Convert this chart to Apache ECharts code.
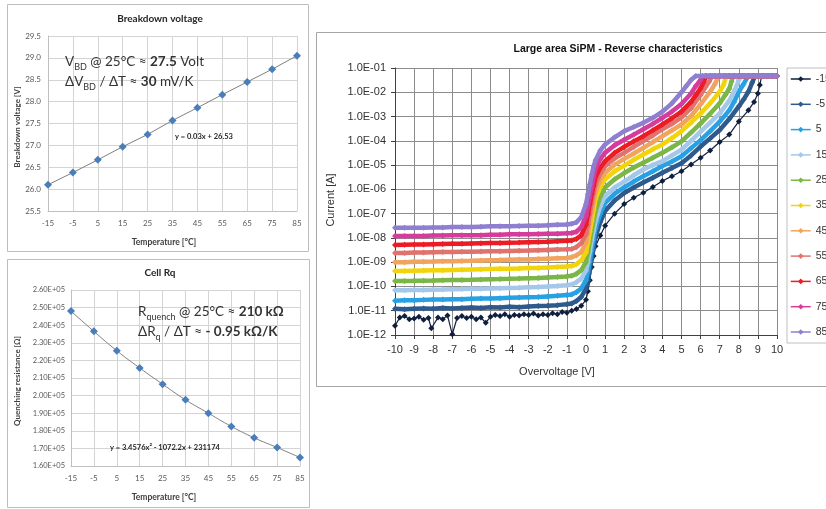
<!DOCTYPE html>
<html><head><meta charset="utf-8">
<script src="https://cdn.jsdelivr.net/npm/echarts/dist/echarts.min.js"></script>
<style>html,body{margin:0;padding:0;background:#fff}#c{width:826px;height:509px}</style>
</head><body><div id="c"></div><script>
// ---------- Data: panel 1 & 2 ----------
const tempC = [-15, -5, 5, 15, 25, 35, 45, 55, 65, 75, 85];
const vbdValues = [26.10, 26.38, 26.67, 26.97, 27.25, 27.57, 27.86, 28.16, 28.45, 28.74, 29.05];
const rqValues = [248000, 236500, 225500, 215700, 206500, 197600, 190000, 182500, 176000, 170500, 164800];

// ---------- Data: panel 3 (reverse I-V) ----------
const seriesNames = ['-15', '-5', '5', '15', '25', '35', '45', '55', '65', '75', '85'];
const vFlat = [-10, -9.5, -9, -8.5, -8, -7.5, -7, -6.5, -6, -5.5, -5, -4.5, -4, -3.5, -3, -2.5, -2, -1.5, -1];
const vRise = [-0.75, -0.5, -0.25, 0, 0.1, 0.2, 0.3, 0.4, 0.5, 0.75, 1, 1.5, 2, 2.5, 3, 3.5, 4, 4.5, 5];
const satV = [5.75, 6, 6.25, 6.5, 6.75, 7, 7.25, 7.5, 7.75, 8, 8.25, 8.5, 8.75, 9, 9.25, 9.5, 9.75, 10];
const satI = [4.7e-2, 4.7e-2, 4.7e-2, 4.7e-2, 4.7e-2, 4.7e-2, 4.7e-2, 4.7e-2, 4.7e-2, 4.7e-2, 4.7e-2, 4.7e-2, 4.7e-2, 4.7e-2, 4.7e-2, 4.7e-2, 4.7e-2, 4.7e-2];

const flatM15Pts = [[-10,2.4e-12],[-9.75,5.2e-12],[-9.5,6.0e-12],[-9.25,4.5e-12],[-9,4.8e-12],[-8.75,5.6e-12],[-8.5,4.2e-12],[-8.25,5.0e-12],[-8.1,1.9e-12],[-7.75,5.2e-12],[-7.5,4.5e-12],[-7.25,6.3e-12],[-7,1.07e-12],[-6.75,5.0e-12],[-6.5,6.0e-12],[-6.25,5.0e-12],[-6,5.6e-12],[-5.75,4.5e-12],[-5.5,5.2e-12],[-5.25,3.2e-12],[-5,5.6e-12],[-4.75,6.6e-12],[-4.5,6.0e-12],[-4.25,7.1e-12],[-4,5.6e-12],[-3.75,6.6e-12],[-3.5,6.3e-12],[-3.25,7.1e-12],[-3,6.6e-12],[-2.75,7.6e-12],[-2.5,6.3e-12],[-2.25,7.1e-12],[-2,6.6e-12],[-1.75,7.9e-12],[-1.5,7.1e-12],[-1.25,8.9e-12],[-1,8.3e-12]];
const riseM15 = [1.0e-11, 1.17e-11, 1.6e-11, 2.8e-11, 6.3e-11, 1.8e-10, 6.3e-10, 1.8e-9, 4.5e-9, 1.26e-8, 3.2e-8, 1.0e-7, 2.5e-7, 4.5e-7, 7.2e-7, 1.26e-6, 2.2e-6, 3.5e-6, 5.6e-6];
const tailM15 = [[5.5,1.05e-5],[6,2.0e-5],[6.5,4.0e-5],[7,8.9e-5],[7.5,1.8e-4],[8,6.3e-4],[8.5,1.8e-3],[8.8,4.0e-3],[9,8.9e-3],[9.1,2.0e-2],[9.2,4.7e-2]];

const flatM5 = [1.2e-11,1.15e-11,1.2e-11,1.25e-11,1.2e-11,1.3e-11,1.25e-11,1.3e-11,1.35e-11,1.3e-11,1.4e-11,1.35e-11,1.45e-11,1.4e-11,1.5e-11,1.55e-11,1.6e-11,1.7e-11,1.85e-11];
const riseM5 = [2.0e-11,2.5e-11,3.7e-11,7.9e-11,1.8e-10,5.0e-10,1.4e-9,4.0e-9,1.1e-8,4.5e-8,1.3e-7,3.5e-7,7.1e-7,1.2e-6,1.9e-6,3.0e-6,4.8e-6,7.6e-6,1.2e-5];
const tailM5 = [[5.5,2.5e-5],[6,5.8e-5],[6.5,1.26e-4],[7,2.8e-4],[7.5,7.9e-4],[8,2.6e-3],[8.25,5.0e-3],[8.5,1.05e-2],[8.7,2.5e-2],[8.85,4.7e-2]];

const flat5 = [2.6e-11,2.7e-11,2.7e-11,2.8e-11,2.9e-11,2.9e-11,3.0e-11,3.0e-11,3.1e-11,3.2e-11,3.2e-11,3.3e-11,3.4e-11,3.5e-11,3.6e-11,3.7e-11,3.9e-11,4.1e-11,4.4e-11];
const rise5 = [4.7e-11,5.8e-11,8.3e-11,1.8e-10,4.0e-10,1.1e-9,3.2e-9,8.9e-9,2.5e-8,1.0e-7,2.8e-7,6.6e-7,1.2e-6,2.1e-6,3.5e-6,5.6e-6,9.1e-6,1.4e-5,2.3e-5];
const tail5 = [[5.5,5.0e-5],[6,1.07e-4],[6.5,2.5e-4],[7,6.2e-4],[7.5,1.8e-3],[7.75,4.0e-3],[8,1.05e-2],[8.25,2.2e-2],[8.5,4.7e-2]];

const flat15 = [6.9e-11,7.0e-11,7.1e-11,7.2e-11,7.4e-11,7.5e-11,7.7e-11,7.8e-11,8.0e-11,8.1e-11,8.3e-11,8.5e-11,8.7e-11,8.9e-11,9.2e-11,9.5e-11,9.9e-11,1.05e-10,1.12e-10];
const rise15 = [1.2e-10,1.5e-10,2.1e-10,4.5e-10,1.0e-9,2.8e-9,7.9e-9,2.0e-8,5.0e-8,2.0e-7,5.4e-7,1.2e-6,2.1e-6,3.8e-6,6.6e-6,1.0e-5,1.45e-5,2.5e-5,4.3e-5];
const tail15 = [[5.5,1.0e-4],[6,2.4e-4],[6.5,5.6e-4],[7,1.35e-3],[7.5,4.5e-3],[7.8,1.26e-2],[8,3.2e-2],[8.1,4.7e-2]];

const flat25 = [1.66e-10,1.68e-10,1.7e-10,1.73e-10,1.76e-10,1.8e-10,1.83e-10,1.86e-10,1.9e-10,1.95e-10,2.0e-10,2.03e-10,2.07e-10,2.12e-10,2.2e-10,2.25e-10,2.35e-10,2.45e-10,2.6e-10];
const rise25 = [2.75e-10,3.3e-10,4.7e-10,1.0e-9,2.5e-9,7.1e-9,2.0e-8,5.0e-8,1.26e-7,5.0e-7,1.2e-6,2.6e-6,4.7e-6,7.9e-6,1.26e-5,2.0e-5,3.2e-5,5.4e-5,9.5e-5];
const tail25 = [[5.5,2.2e-4],[6,5.2e-4],[6.5,1.3e-3],[7,3.5e-3],[7.3,7.9e-3],[7.5,1.4e-2],[7.62,2.8e-2],[7.7,4.7e-2]];

const flat35 = [4.3e-10,4.3e-10,4.4e-10,4.5e-10,4.6e-10,4.7e-10,4.8e-10,4.9e-10,5.0e-10,5.1e-10,5.2e-10,5.3e-10,5.4e-10,5.5e-10,5.7e-10,5.8e-10,6.0e-10,6.3e-10,6.6e-10];
const rise35 = [6.9e-10,8.3e-10,1.2e-9,2.5e-9,6.3e-9,1.8e-8,5.0e-8,1.4e-7,4.0e-7,1.26e-6,2.6e-6,5.6e-6,9.5e-6,1.66e-5,2.75e-5,4.5e-5,7.1e-5,1.3e-4,2.5e-4];
const tail35 = [[5.5,5.6e-4],[6,1.35e-3],[6.5,3.5e-3],[7,1.05e-2],[7.2,2.0e-2],[7.35,4.7e-2]];

const flat45 = [1.0e-9,1.0e-9,1.03e-9,1.05e-9,1.07e-9,1.1e-9,1.1e-9,1.13e-9,1.15e-9,1.18e-9,1.2e-9,1.22e-9,1.25e-9,1.28e-9,1.3e-9,1.35e-9,1.4e-9,1.45e-9,1.5e-9];
const rise45 = [1.6e-9,1.9e-9,2.6e-9,6.3e-9,1.6e-8,4.5e-8,1.26e-7,3.2e-7,7.9e-7,2.5e-6,4.8e-6,1.05e-5,1.8e-5,3.0e-5,5.1e-5,8.9e-5,1.55e-4,2.7e-4,4.7e-4];
const tail45 = [[5.5,1.05e-3],[6,3.2e-3],[6.5,1.05e-2],[6.75,2.2e-2],[6.95,4.7e-2]];

const flat55 = [2.4e-9,2.4e-9,2.5e-9,2.5e-9,2.55e-9,2.6e-9,2.6e-9,2.7e-9,2.7e-9,2.75e-9,2.8e-9,2.85e-9,2.9e-9,2.95e-9,3.0e-9,3.1e-9,3.2e-9,3.3e-9,3.4e-9];
const rise55 = [3.5e-9,4.2e-9,6.0e-9,1.4e-8,3.5e-8,1.0e-7,2.8e-7,7.1e-7,1.6e-6,4.5e-6,9.1e-6,1.9e-5,3.2e-5,5.6e-5,9.8e-5,1.66e-4,3.0e-4,5.0e-4,9.3e-4];
const tail55 = [[5.5,2.2e-3],[6,7.8e-3],[6.25,1.6e-2],[6.45,2.8e-2],[6.6,4.7e-2]];

const flat65 = [5.1e-9,5.2e-9,5.3e-9,5.4e-9,5.5e-9,5.6e-9,5.7e-9,5.8e-9,5.9e-9,6.0e-9,6.1e-9,6.2e-9,6.3e-9,6.4e-9,6.6e-9,6.8e-9,7.0e-9,7.3e-9,7.6e-9];
const rise65 = [7.9e-9,9.1e-9,1.3e-8,3.5e-8,8.9e-8,2.5e-7,6.3e-7,1.4e-6,3.2e-6,7.9e-6,1.45e-5,3.2e-5,5.6e-5,9.5e-5,1.55e-4,2.7e-4,4.7e-4,8.5e-4,1.6e-3];
const tail65 = [[5.5,4.0e-3],[5.75,7.6e-3],[6,1.45e-2],[6.15,2.5e-2],[6.3,4.7e-2]];

const flat75 = [1.2e-8,1.2e-8,1.2e-8,1.2e-8,1.25e-8,1.25e-8,1.3e-8,1.3e-8,1.3e-8,1.3e-8,1.35e-8,1.35e-8,1.4e-8,1.4e-8,1.4e-8,1.45e-8,1.5e-8,1.5e-8,1.55e-8];
const rise75 = [1.6e-8,1.8e-8,2.8e-8,7.9e-8,2.0e-7,5.0e-7,1.26e-6,3.2e-6,7.1e-6,1.8e-5,3.2e-5,6.6e-5,1.1e-4,1.8e-4,3.0e-4,5.0e-4,8.9e-4,1.6e-3,3.3e-3];
const tail75 = [[5.5,8.9e-3],[5.75,1.8e-2],[6,3.2e-2],[6.1,4.7e-2]];

const flat85 = [2.6e-8,2.6e-8,2.6e-8,2.6e-8,2.7e-8,2.7e-8,2.8e-8,2.8e-8,2.8e-8,2.9e-8,3.0e-8,3.0e-8,3.0e-8,3.1e-8,3.2e-8,3.2e-8,3.3e-8,3.5e-8,3.6e-8];
const rise85 = [3.8e-8,4.4e-8,7.1e-8,2.5e-7,6.3e-7,1.6e-6,4.0e-6,8.9e-6,1.6e-5,4.0e-5,7.1e-5,1.4e-4,2.5e-4,3.7e-4,5.5e-4,8.9e-4,1.6e-3,3.5e-3,1.0e-2];
const tail85 = [[5.25,1.8e-2],[5.5,3.2e-2],[5.75,4.7e-2]];

const seriesColors = ['#0f1f3d','#2f5a8c','#27a1e3','#a5c8ea','#7ab648','#f2d40c','#f0a45e','#e0736e','#ed1c24','#d63c9b','#8f7fd0'];

// ---------- assemble ----------
function buildCurve(flat, rise, tail, flatPts) {
  const pts = [];
  if (flatPts) flatPts.forEach(p => pts.push([p[0], p[1]]));
  else vFlat.forEach((v, i) => pts.push([v, flat[i]]));
  vRise.forEach((v, i) => pts.push([v, rise[i]]));
  tail.forEach(p => pts.push([p[0], p[1]]));
  const knee = tail[tail.length - 1][0];
  satV.forEach((v, i) => { if (v > knee + 1e-9) pts.push([v, satI[i]]); });
  return pts;
}
const curves = [
  buildCurve(null, riseM15, tailM15, flatM15Pts),
  buildCurve(flatM5, riseM5, tailM5),
  buildCurve(flat5, rise5, tail5),
  buildCurve(flat15, rise15, tail15),
  buildCurve(flat25, rise25, tail25),
  buildCurve(flat35, rise35, tail35),
  buildCurve(flat45, rise45, tail45),
  buildCurve(flat55, rise55, tail55),
  buildCurve(flat65, rise65, tail65),
  buildCurve(flat75, rise75, tail75),
  buildCurve(flat85, rise85, tail85)
];

const smallFont = 'Lato, "Liberation Sans", sans-serif';
const arial = '"Liberation Sans", Arial, sans-serif';

function expLabel(v) {
  const e = Math.round(Math.log10(v));
  const a = Math.abs(e);
  return '1.0E' + (e < 0 ? '-' : '+') + (a < 10 ? '0' + a : a);
}

const ivSeries = curves.map((c, i) => ({
  name: seriesNames[i],
  type: 'line',
  xAxisIndex: 2, yAxisIndex: 2,
  data: c,
  symbol: 'diamond',
  symbolSize: 6,
  showSymbol: true,
  itemStyle: { color: seriesColors[i] },
  lineStyle: { color: seriesColors[i], width: i === 0 ? 1.2 : 4.5 },
  z: 3 + i
}));

const richBase = {
  n: { fontSize: 13.5, fontFamily: smallFont, fill: '#333', lineHeight: 20, verticalAlign: 'middle' },
  b: { fontSize: 13.5, fontFamily: smallFont, fontWeight: 'bold', fill: '#333', lineHeight: 20, verticalAlign: 'middle' },
  s: { fontSize: 9, fontFamily: smallFont, fill: '#333', lineHeight: 9, verticalAlign: 'bottom' }
};

const chart = echarts.init(document.getElementById('c'), null, { renderer: 'canvas' });
const option = {
  animation: false,
  backgroundColor: '#ffffff',
  grid: [
    { left: 48, top: 36, width: 249, height: 175, outerBoundsMode: 'none' },
    { left: 71, top: 290, width: 229, height: 176, outerBoundsMode: 'none' },
    { left: 395, top: 68, width: 382, height: 267, outerBoundsMode: 'none' }
  ],
  xAxis: [
    { gridIndex: 0, type: 'value', min: -15, max: 85, interval: 10,
      axisLine: { onZero: false, lineStyle: { color: '#bfbfbf' } }, axisTick: { show: false },
      splitLine: { show: true, lineStyle: { color: '#d4d4d4' } },
      axisLabel: { fontSize: 8, color: '#595959', fontFamily: smallFont, margin: 8 } },
    { gridIndex: 1, type: 'value', min: -15, max: 85, interval: 10,
      axisLine: { onZero: false, lineStyle: { color: '#bfbfbf' } }, axisTick: { show: false },
      splitLine: { show: true, lineStyle: { color: '#d4d4d4' } },
      axisLabel: { fontSize: 8, color: '#595959', fontFamily: smallFont, margin: 8 } },
    { gridIndex: 2, type: 'value', min: -10, max: 10, interval: 1,
      axisLine: { onZero: false, lineStyle: { color: '#404040' } },
      axisTick: { show: true, length: 4, lineStyle: { color: '#404040' } },
      splitLine: { show: true, lineStyle: { color: '#8c8c8c' } },
      axisLabel: { fontSize: 11, color: '#333', fontFamily: arial, margin: 9 } }
  ],
  yAxis: [
    { gridIndex: 0, type: 'value', min: 25.5, max: 29.5, interval: 0.5,
      axisLine: { show: true, onZero: false, lineStyle: { color: '#bfbfbf' } }, axisTick: { show: false },
      splitLine: { lineStyle: { color: '#d4d4d4' } },
      axisLabel: { fontSize: 8, color: '#595959', fontFamily: smallFont, margin: 7, formatter: v => v.toFixed(1) } },
    { gridIndex: 1, type: 'value', min: 160000, max: 260000, interval: 10000,
      axisLine: { show: true, onZero: false, lineStyle: { color: '#bfbfbf' } }, axisTick: { show: false },
      splitLine: { lineStyle: { color: '#d4d4d4' } },
      axisLabel: { fontSize: 7.5, color: '#595959', fontFamily: smallFont, margin: 6, formatter: v => (v / 1e5).toFixed(2) + 'E+05' } },
    { gridIndex: 2, type: 'log', logBase: 10, min: 1e-12, max: 1e-1, interval: 1, splitNumber: 11,
      axisLine: { show: true, onZero: false, lineStyle: { color: '#404040' } },
      axisTick: { show: true, length: 4, lineStyle: { color: '#404040' } },
      splitLine: { show: true, lineStyle: { color: '#8c8c8c' } },
      minorTick: { show: false }, minorSplitLine: { show: false },
      axisLabel: { fontSize: 11, color: '#333', fontFamily: arial, margin: 9, formatter: expLabel } }
  ],
  legend: {
    data: seriesNames, orient: 'vertical', left: 787, top: 68,
    padding: [4, 40, 4, 3], itemWidth: 20, itemHeight: 7, itemGap: 11.3,
    borderColor: '#bfbfbf', borderWidth: 1, backgroundColor: '#fff',
    textStyle: { fontSize: 10.5, color: '#333', fontFamily: arial, lineHeight: 14 },
    lineStyle: { width: 1.5 }
  },
  series: [
    { name: 'Breakdown voltage', type: 'line', xAxisIndex: 0, yAxisIndex: 0,
      data: tempC.map((t, i) => [t, vbdValues[i]]),
      symbol: 'diamond', symbolSize: 8, itemStyle: { color: '#4a7ebb' },
      lineStyle: { color: '#7f7f7f', width: 1 } },
    { name: 'Cell Rq', type: 'line', xAxisIndex: 1, yAxisIndex: 1, smooth: true,
      data: tempC.map((t, i) => [t, rqValues[i]]),
      symbol: 'diamond', symbolSize: 8, itemStyle: { color: '#4a7ebb' },
      lineStyle: { color: '#7f7f7f', width: 1 } }
  ].concat(ivSeries),
  graphic: [
    { type: 'rect', z: 100, shape: { x: 7.5, y: 4.5, width: 301, height: 247 }, style: { fill: 'none', stroke: '#bdbdbd', lineWidth: 1 }, silent: true },
    { type: 'rect', z: 100, shape: { x: 7.5, y: 259.5, width: 302, height: 248 }, style: { fill: 'none', stroke: '#bdbdbd', lineWidth: 1 }, silent: true },
    { type: 'rect', z: 100, shape: { x: 316.5, y: 32.5, width: 540, height: 354 }, style: { fill: 'none', stroke: '#a6a6a6', lineWidth: 1 }, silent: true },
    // titles
    { type: 'text', z: 100, x: 160, y: 19, style: { text: 'Breakdown voltage', font: 'bold 10px ' + smallFont, fill: '#262626', align: 'center', verticalAlign: 'middle' } },
    { type: 'text', z: 100, x: 160, y: 273, style: { text: 'Cell Rq', font: 'bold 10px ' + smallFont, fill: '#262626', align: 'center', verticalAlign: 'middle' } },
    { type: 'text', z: 100, x: 618, y: 49, style: { text: 'Large area SiPM - Reverse characteristics', font: 'bold 10.5px ' + arial, fill: '#111', align: 'center', verticalAlign: 'middle' } },
    // axis titles
    { type: 'text', z: 100, x: 164, y: 242, style: { text: 'Temperature [°C]', font: 'bold 8.5px ' + smallFont, fill: '#404040', align: 'center', verticalAlign: 'middle' } },
    { type: 'text', z: 100, x: 17, y: 127, rotation: Math.PI / 2, style: { text: 'Breakdown voltage [V]', font: 'bold 8px ' + smallFont, fill: '#404040', align: 'center', verticalAlign: 'middle' } },
    { type: 'text', z: 100, x: 164, y: 497, style: { text: 'Temperature [°C]', font: 'bold 8.5px ' + smallFont, fill: '#404040', align: 'center', verticalAlign: 'middle' } },
    { type: 'text', z: 100, x: 17, y: 381, rotation: Math.PI / 2, style: { text: 'Quenching resistance [Ω]', font: 'bold 8px ' + smallFont, fill: '#404040', align: 'center', verticalAlign: 'middle' } },
    { type: 'text', z: 100, x: 557, y: 372, style: { text: 'Overvoltage [V]', font: '11px ' + arial, fill: '#333', align: 'center', verticalAlign: 'middle' } },
    { type: 'text', z: 100, x: 331, y: 200, rotation: Math.PI / 2, style: { text: 'Current [A]', font: '11px ' + arial, fill: '#333', align: 'center', verticalAlign: 'middle' } },
    // equations
    { type: 'text', z: 100, x: 175, y: 137, style: { text: 'y = 0.03x + 26.53', font: 'bold 7.5px ' + smallFont, fill: '#262626', verticalAlign: 'middle' } },
    { type: 'text', z: 100, x: 110, y: 448, style: { text: 'y = 3.4576x² - 1072.2x + 231174', font: 'bold 7.5px ' + smallFont, fill: '#262626', verticalAlign: 'middle' } },
    // annotations panel 1
    { type: 'text', z: 100, x: 65, y: 52, style: { text: '{n|V}{s|BD}{n| @ 25°C ≈ }{b|27.5}{n| Volt}', rich: richBase } },
    { type: 'text', z: 100, x: 65, y: 72, style: { text: '{n|ΔV}{s|BD}{n| / ΔT ≈ }{b|30}{n| mV/K}', rich: richBase } },
    // annotations panel 2
    { type: 'text', z: 100, x: 138, y: 302, style: { text: '{n|R}{s|quench}{n| @ 25°C ≈ }{b|210 kΩ}', rich: richBase } },
    { type: 'text', z: 100, x: 138, y: 322, style: { text: '{n|ΔR}{s|q}{n| / ΔT ≈ }{b|- 0.95 kΩ/K}', rich: richBase } }
  ]
};
chart.setOption(option);
</script></body></html>
